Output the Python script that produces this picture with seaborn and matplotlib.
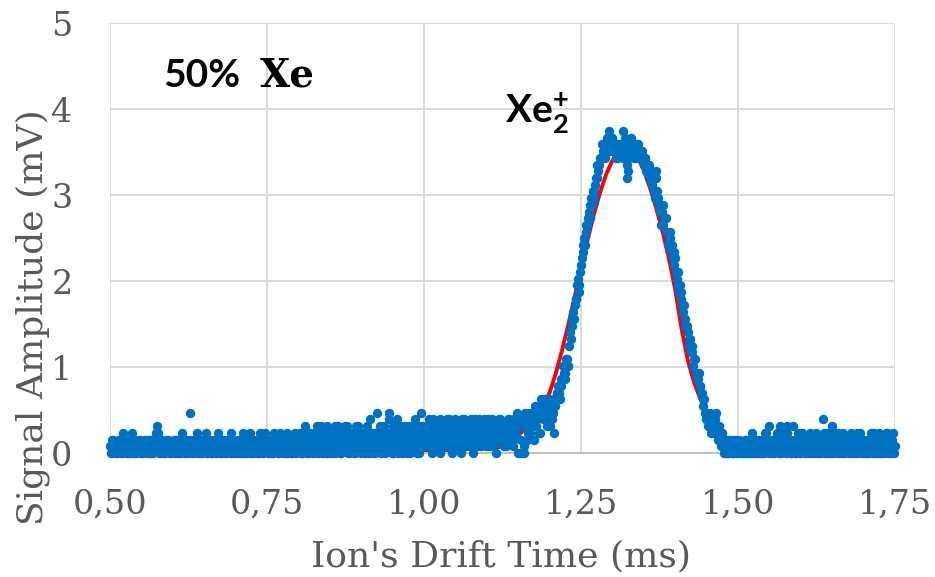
import numpy as np
import pandas as pd
import matplotlib
matplotlib.use("Agg")
import matplotlib.pyplot as plt
import seaborn as sns

# ---------------- data (digitizer counts) ----------------
LSB_MV = 0.078          # one digitizer count in mV
T_START = 0.50          # ms, first sample of pass A
T_START_B = 0.50125     # ms, first sample of pass B (interleaved)
T_STEP = 0.0025         # ms, sample spacing within a pass

# pass A
base_left_counts = [
    1,0,2,1,0,1,2,0,1,1, 0,2,1,0,3,1,0,1,2,0, 1,0,1,2,1,0,0,2,1,3,
    4,1,0,2,1,0,1,2,0,1, 1,0,2,1,0,1,3,1,0,2, 1,6,0,1,2,1,0,1,0,2,
    1,3,0,1,2,0,1,1,0,2, 1,0,2,1,0,1,2,3,0,1, 1,0,2,1,0,2,1,0,1,3,
    0,1,2,1,0,1,2,0,1,3, 1,0,2,1,0,1,2,0,3,1, 0,2,1,0,1,2,0,1,3,1,
]
base_mid_counts = [
    1,3,0,2,4,1,0,2,3,1, 0,2,4,1,3,0,2,1,4,0, 2,1,3,0,2,4,1,0,3,2,
    1,4,0,2,1,3,0,2,4,1, 0,3,2,1,4,0,2,3,1,0, 6,2,4,1,3,0,2,1,6,3,
    0,2,4,5,1,3,0,2,4,1, 3,0,2,4,1,3,2,0,6,4,
]
pre_peak_counts = [
    2,4,1,5,3,0,2,4,3,1, 5,2,3,4,1,3,5,2,0,4, 3,1,4,2,5,3,1,4,2,3,
    5,0,3,4,2,5,1,3,4,2, 3,5,1,4,2,3,0,4,5,2, 3,1,4,3,5,2,4,1,3,6,
]
peak_counts = [
    0,5,0,4,0,5,3,6,4,5, 2,7,5,6,3,7,6,8,5,7, 4,7,6,3,8,9,9,10,11,12,
    12,14,13,18,19,21,22,23,26,25, 28,30,32,33,34,36,37,37,39,40,
    41,42,44,44,45,46,45,47,48,46, 47,45,46,44,45,46,45,48,47,41,
    42,45,47,46,45,44,46,45,44,45, 43,44,42,43,41,40,41,38,42,38,
    37,34,37,35,35,33,32,32,31,28, 29,26,25,25,23,21,20,19,18,16,
    15,15,14,12,11,12,10,9,7,6, 5,4,6,3,5,4,6,2,4,1, 3,0,
]
base_right_counts = [
    1,0,2,1,0,0,1,2,0,1, 0,1,0,2,1,0,1,3,0,1, 2,0,1,0,2,1,3,1,4,1,
    2,0,1,3,0,4,1,3,2,4, 1,2,0,4,1,0,2,1,0,3, 1,0,2,1,3,0,1,2,0,1,
    0,2,5,3,0,1,2,0,4,3, 1,0,2,1,0,3,1,2,0,1, 3,0,1,2,0,1,3,2,0,1,
    2,0,1,3,0,2,1,0,3,1, 0,2,1,3,0,1,2,3,1,
]

# pass B (samples half-way between pass A samples)
base_left_counts_b = [
    0,2,1,1,0,2,1,0,3,1, 2,0,1,1,0,2,0,1,1,2, 0,1,2,0,1,2,1,0,1,2,
    3,0,2,1,0,1,2,1,0,1, 2,1,0,2,1,0,1,2,1,0, 1,2,1,0,1,3,1,2,0,1,
    2,0,1,2,0,1,2,0,3,1, 0,2,1,0,2,1,0,1,2,0, 1,2,0,1,3,0,1,2,1,0,
    2,0,1,2,0,3,1,0,2,1, 0,2,1,0,3,1,2,0,1,2, 1,0,3,1,2,0,1,2,0,2,
]
base_mid_counts_b = [
    2,0,3,1,2,0,3,1,0,2, 3,1,0,2,4,1,3,0,2,3, 1,0,2,4,1,3,0,2,1,4,
    3,0,2,3,1,0,4,1,2,3, 1,2,0,3,1,5,2,0,3,2, 1,3,0,2,4,1,3,5,2,0,
    4,1,3,0,2,4,1,3,0,2, 4,1,3,2,5,0,2,4,1,3,
]
pre_peak_counts_b = [
    3,1,4,2,3,5,1,4,2,3, 0,4,3,2,5,1,4,3,2,5, 1,3,4,0,3,5,2,4,3,1,
    4,2,5,3,1,4,3,2,5,1, 4,2,3,5,1,4,2,3,5,2, 4,3,1,5,3,4,2,5,3,4,
]
peak_counts_b = [
    4,2,5,1,6,2,5,3,4,6, 5,4,6,3,8,5,7,6,4,8, 6,5,8,7,9,10,8,11,13,11,
    14,13,16,17,20,20,23,25,24,27, 29,31,31,34,35,35,38,39,38,41,
    43,43,44,46,45,44,47,46,45,47, 46,45,44,46,45,46,44,46,45,43,
    44,46,45,44,45,46,45,44,45,44, 44,42,43,41,42,40,39,41,39,37,
    36,36,34,35,33,31,33,30,29,30, 27,27,24,24,22,22,19,19,17,17,
    16,13,14,12,11,10,9,8,8,5, 6,5,4,5,3,5,3,4,2,3, 1,0,
]
base_right_counts_b = [
    2,1,0,1,2,0,1,0,2,1, 1,0,2,0,1,2,0,1,2,0, 1,2,0,1,0,3,2,0,1,2,
    0,1,2,1,3,0,2,1,0,3, 2,0,1,2,0,1,3,0,2,1, 0,2,1,0,1,2,0,3,1,0,
    2,1,0,1,3,0,2,1,0,2, 1,3,0,1,2,0,1,2,1,0, 2,1,0,3,1,2,0,1,2,0,
    1,0,2,1,3,0,1,2,0,2, 1,0,3,1,0,2,1,0,2,
]

# fitted curve (red)
fit_time = [1.00,1.01,1.02,1.03,1.04,1.05,1.06,1.07,1.08,1.09,
            1.10,1.11,1.12,1.13,1.14,1.15,1.16,1.17,1.18,1.19,
            1.20,1.21,1.22,1.23,1.24,1.25,1.26,1.27,1.28,1.29,
            1.30,1.31,1.32,1.33,1.34,1.35,1.36,1.37,1.38,1.39,
            1.40,1.41,1.42,1.43,1.44,1.45,1.46,1.47,1.48,1.49,
            1.50,1.51,1.52,1.53,1.54,1.55,1.56,1.57,1.58,1.59,1.60]
fit_amp = [0.03,0.03,0.03,0.035,0.035,0.04,0.04,0.045,0.05,0.055,
           0.06,0.065,0.07,0.08,0.13,0.20,0.28,0.37,0.47,0.57,
           0.70,0.93,1.20,1.50,1.82,2.15,2.46,2.76,3.02,3.24,
           3.40,3.50,3.54,3.52,3.44,3.29,3.08,2.84,2.57,2.26,
           1.90,1.45,1.08,0.82,0.63,0.48,0.36,0.26,0.18,0.12,
           0.08,0.06,0.045,0.035,0.03,0.03,0.03,0.03,0.03,0.03,0.03]

x_ticks = [0.50, 0.75, 1.00, 1.25, 1.50, 1.75]
x_tick_labels = ["0,50", "0,75", "1,00", "1,25", "1,50", "1,75"]
y_ticks = [0, 1, 2, 3, 4, 5]

# ---------------- build table ----------------
counts_a = (base_left_counts + base_mid_counts + pre_peak_counts
            + peak_counts + base_right_counts)
counts_b = (base_left_counts_b + base_mid_counts_b + pre_peak_counts_b
            + peak_counts_b + base_right_counts_b)
sig = pd.concat([
    pd.DataFrame({"time": T_START + T_STEP * np.arange(len(counts_a)),
                  "amp": np.array(counts_a) * LSB_MV}),
    pd.DataFrame({"time": T_START_B + T_STEP * np.arange(len(counts_b)),
                  "amp": np.array(counts_b) * LSB_MV}),
]).sort_values("time")
sig = sig[sig["time"] <= 1.7501]
fit = pd.DataFrame({"time": fit_time, "amp": fit_amp})

# ---------------- style ----------------
sns.set_theme(style="white")
plt.rcParams["font.family"] = ["DejaVu Serif", "DejaVu Sans"]
plt.rcParams["mathtext.fontset"] = "custom"
plt.rcParams["mathtext.rm"] = "Lato"
plt.rcParams["mathtext.bf"] = "Lato:bold"

GRAY = "#595959"
GRID = "#D9D9D9"

fig = plt.figure(figsize=(9.35, 5.77), dpi=100)
ax = fig.add_axes([110/935, 1 - 453/577, 785/935, 430/577])

sns.lineplot(data=fit, x="time", y="amp", ax=ax, color="#FF0000",
             linewidth=2.8, zorder=2, legend=False)
sns.scatterplot(data=sig, x="time", y="amp", ax=ax, color="#0070C0",
                s=46, linewidth=0, alpha=1, zorder=3, legend=False,
                clip_on=False)

ax.set_xlim(0.50, 1.75)
ax.set_ylim(0, 5)
ax.set_xticks(x_ticks)
ax.set_xticklabels(x_tick_labels)
ax.set_yticks(y_ticks)
ax.grid(True, color=GRID, linewidth=1.4, zorder=0)
ax.set_axisbelow(True)
for side in ["top", "right", "left"]:
    ax.spines[side].set_visible(False)
ax.spines["bottom"].set_color("#BFBFBF")
ax.spines["bottom"].set_linewidth(1.4)

ax.tick_params(axis="x", length=0, pad=26, labelsize=24, labelcolor=GRAY)
ax.tick_params(axis="y", length=0, pad=27, labelsize=24, labelcolor=GRAY)

ax.set_xlabel("Ion's Drift Time (ms)", fontsize=26, color=GRAY)
ax.set_ylabel("Signal Amplitude (mV)", fontsize=26, color=GRAY)
ax.xaxis.set_label_coords(0.498, -0.240)
ax.xaxis.label.set_verticalalignment("center")
ax.yaxis.set_label_coords(-0.099, 0.316)
ax.yaxis.label.set_verticalalignment("center")

ax.text(0.584, 4.26, "50%", fontsize=28, fontweight="bold",
        family="Lato", color="black", va="baseline", ha="left", zorder=5)
ax.text(0.739, 4.26, "Xe", fontsize=28, fontweight="bold",
        family="DejaVu Serif", color="black", va="baseline", ha="left", zorder=5)
ax.text(1.129, 3.84, r"$\mathbf{Xe}_{\mathbf{2}}^{\mathbf{+}}$", fontsize=28,
        color="black", va="baseline", ha="left", zorder=5)

fig.savefig("out.png", dpi=100)
